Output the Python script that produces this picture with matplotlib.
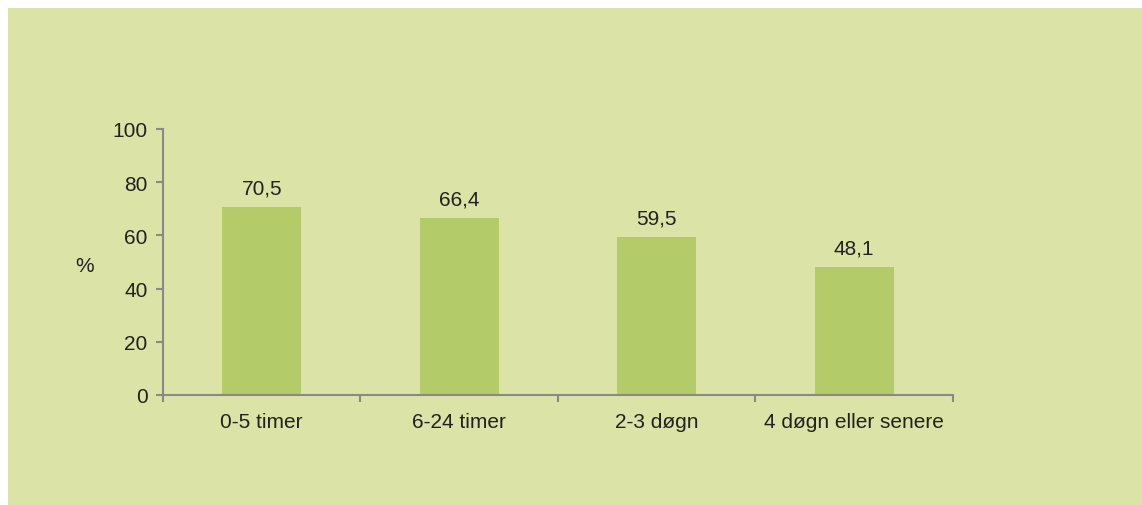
import matplotlib.pyplot as plt
from matplotlib.patches import Rectangle

categories = ['0-5 timer', '6-24 timer', '2-3 døgn', '4 døgn eller senere']
values = [70.5, 66.4, 59.5, 48.1]
yticks = [0, 20, 40, 60, 80, 100]

bg = '#dbe3a6'
bar_color = '#b3cb68'
axis_color = '#898989'
text_color = '#222222'

plt.rcParams['font.family'] = ['Liberation Sans', 'DejaVu Sans']

fig = plt.figure(figsize=(11.42, 5.06), dpi=100)
fig.patch.set_facecolor('white')
fig.add_artist(Rectangle((8 / 1142, 0), 1134 / 1142, 497 / 506,
                         transform=fig.transFigure, facecolor=bg,
                         edgecolor='none', zorder=0))

ax = fig.add_axes([0.1427, 0.2174, 0.6918, 0.5257])
ax.set_facecolor('none')

x = list(range(len(categories)))
ax.bar(x, values, width=0.4, color=bar_color, zorder=2)
for xi, v in zip(x, values):
    ax.annotate(f'{v:.1f}'.replace('.', ','), (xi, v), xytext=(0, 7),
                textcoords='offset points', ha='center', va='bottom',
                fontsize=15, color=text_color)

ax.set_xlim(-0.5, len(categories) - 0.5)
ax.set_ylim(0, 100)
ax.set_yticks(yticks)
ax.set_xticks(x)
ax.set_xticklabels(categories)
ax.set_xticks([i + 0.5 for i in range(-1, len(categories))], minor=True)

ax.tick_params(axis='x', which='major', length=0, pad=12, labelsize=15, labelcolor=text_color)
ax.tick_params(axis='x', which='minor', length=5, width=1.5, color=axis_color)
ax.tick_params(axis='y', length=5, width=1.5, color=axis_color, pad=6,
               labelsize=15, labelcolor=text_color)

for s in ['top', 'right']:
    ax.spines[s].set_visible(False)
for s in ['left', 'bottom']:
    ax.spines[s].set_color(axis_color)
    ax.spines[s].set_linewidth(1.5)

ax.set_ylabel('%', rotation=0, fontsize=15, color=text_color, va='center', ha='center')
ax.yaxis.set_label_coords(-0.099, 0.485)

fig.savefig('out.png', dpi=100, facecolor='white')
